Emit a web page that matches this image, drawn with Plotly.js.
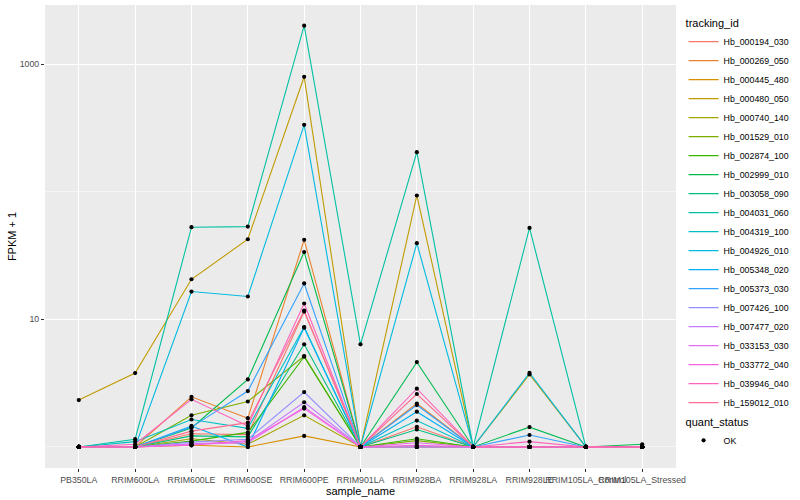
<!DOCTYPE html>
<html>
<head>
<meta charset="utf-8">
<script src="https://cdn.plot.ly/plotly-3.0.1.min.js"></script>
<style>html,body{margin:0;padding:0;background:#fff}#chart{width:800px;height:500px}</style>
</head>
<body>
<div id="chart"></div>
<script>
var samples = ["PB350LA","RRIM600LA","RRIM600LE","RRIM600SE","RRIM600PE","RRIM901LA","RRIM928BA","RRIM928LA","RRIM928LE","RRIM105LA_Control","RRIM105LA_Stressed"];
var trackingIds = ["Hb_000194_030","Hb_000269_050","Hb_000445_480","Hb_000480_050","Hb_000740_140","Hb_001529_010","Hb_002874_100","Hb_002999_010","Hb_003058_090","Hb_004031_060","Hb_004319_100","Hb_004926_010","Hb_005348_020","Hb_005373_030","Hb_007426_100","Hb_007477_020","Hb_033153_030","Hb_033772_040","Hb_039946_040","Hb_159012_010"];
var colors = ["#F8766D","#EA8331","#D89000","#C09B00","#A3A500","#7CAE00","#39B600","#00BB4E","#00BF7D","#00C1A3","#00BFC4","#00BAE0","#00B0F6","#35A2FF","#9590FF","#C77CFF","#E76BF3","#FA62DB","#FF62BC","#FF6C91"];

// FPKM + 1 per sample (order of samples)
var Hb_000194_030 = [1, 1, 1.27, 1.25, 11.5, 1, 1.44, 1, 1, 1, 1];
var Hb_000269_050 = [1, 1, 2.47, 1.68, 42, 1, 2.19, 1, 1, 1, 1];
var Hb_000445_480 = [1, 1, 1.03, 1.0, 1.22, 1, 1.0, 1, 1, 1, 1];
var Hb_000480_050 = [2.33, 3.79, 20.6, 42.4, 795, 1, 93.4, 1, 3.7, 1, 1];
var Hb_000740_140 = [1, 1, 1.16, 1.05, 1.77, 1, 1.0, 1, 1, 1, 1];
var Hb_001529_010 = [1, 1, 1.77, 2.27, 5.15, 1, 1.12, 1, 1, 1, 1];
var Hb_002874_100 = [1, 1, 1.11, 1.3, 5.1, 1, 1.16, 1, 1, 1, 1];
var Hb_002999_010 = [1, 1, 1.41, 3.38, 33.7, 1, 4.62, 1, 1.43, 1, 1.05];
var Hb_003058_090 = [1, 1, 1.22, 1.2, 6.37, 1, 1.37, 1, 1, 1, 1];
var Hb_004031_060 = [1, 1.15, 52.7, 53.3, 2000, 6.37, 204, 1, 52, 1, 1];
var Hb_004319_100 = [1, 1.1, 1.64, 1.4, 8.7, 1, 1.61, 1, 1, 1, 1];
var Hb_004926_010 = [1, 1, 16.5, 15.1, 334, 1, 39.5, 1, 3.8, 1, 1];
var Hb_005348_020 = [1, 1, 1.46, 1.0, 8.6, 1, 1.89, 1, 1, 1, 1];
var Hb_005373_030 = [1, 1, 1.43, 2.74, 19.1, 1, 2.13, 1, 1.24, 1, 1];
var Hb_007426_100 = [1, 1, 1.09, 1.15, 2.69, 1, 1.0, 1, 1, 1, 1];
var Hb_007477_020 = [1, 1, 1.06, 1.1, 2.24, 1, 1.0, 1, 1, 1, 1];
var Hb_033153_030 = [1, 1, 1.05, 1.08, 2.05, 1, 1.08, 1, 1, 1, 1];
var Hb_033772_040 = [1, 1, 1.03, 1.12, 2.0, 1, 1.03, 1, 1, 1, 1];
var Hb_039946_040 = [1, 1.05, 2.36, 1.46, 13.3, 1, 2.86, 1, 1.1, 1, 1];
var Hb_159012_010 = [1, 1, 1.33, 1.55, 11.7, 1, 2.6, 1, 1, 1, 1];

var seriesValues = [Hb_000194_030,Hb_000269_050,Hb_000445_480,Hb_000480_050,Hb_000740_140,Hb_001529_010,Hb_002874_100,Hb_002999_010,Hb_003058_090,Hb_004031_060,Hb_004319_100,Hb_004926_010,Hb_005348_020,Hb_005373_030,Hb_007426_100,Hb_007477_020,Hb_033153_030,Hb_033772_040,Hb_039946_040,Hb_159012_010];

var FONT = "Liberation Sans, Arial, sans-serif";
var traces = [];
var allX = [], allY = [];
for (var i = 0; i < trackingIds.length; i++) {
  traces.push({
    type: "scatter", mode: "lines", name: trackingIds[i],
    x: samples, y: seriesValues[i],
    line: {color: colors[i], width: 1.1},
    legend: "legend", hoverinfo: "skip"
  });
  allX = allX.concat(samples);
  allY = allY.concat(seriesValues[i]);
}
traces.push({
  type: "scatter", mode: "markers", name: "OK",
  x: allX, y: allY,
  marker: {color: "#000000", size: 4.2},
  legend: "legend2", hoverinfo: "skip"
});

var layout = {
  width: 800, height: 500,
  margin: {l: 45, r: 117, t: 5, b: 32},
  paper_bgcolor: "#FFFFFF",
  plot_bgcolor: "#EBEBEB",
  font: {family: FONT, color: "#000000"},
  showlegend: true,
  xaxis: {
    type: "category", categoryorder: "array", categoryarray: samples,
    range: [-0.6, 10.6],
    showgrid: true, gridcolor: "#FFFFFF", gridwidth: 1.1,
    zeroline: false, showline: false,
    ticks: "outside", ticklen: 3, tickwidth: 1, tickcolor: "#333333",
    tickangle: 0,
    tickfont: {family: FONT, size: 8.8, color: "#4D4D4D"},
    title: {text: "sample_name", font: {family: FONT, size: 11, color: "#000000"}, standoff: 3}
  },
  yaxis: {
    type: "log",
    range: [-0.165, 3.463],
    tickmode: "array", tickvals: [10, 1000], ticktext: ["10", "1000"],
    showgrid: true, gridcolor: "#FFFFFF", gridwidth: 1.1,
    minor: {tickmode: "array", tickvals: [1, 100], showgrid: true, gridcolor: "#FFFFFF", gridwidth: 0.5, ticks: ""},
    zeroline: false, showline: false,
    ticks: "outside", ticklen: 3, tickwidth: 1, tickcolor: "#333333",
    tickfont: {family: FONT, size: 8.8, color: "#4D4D4D"},
    title: {text: "FPKM + 1", font: {family: FONT, size: 11, color: "#000000"}, standoff: 0}
  },
  legend: {
    title: {text: "tracking_id", font: {family: FONT, size: 11, color: "#000000"}},
    x: 1.012, xanchor: "left", y: 0.983, yanchor: "top",
    bgcolor: "rgba(0,0,0,0)",
    font: {family: FONT, size: 8.8, color: "#000000"},
    itemwidth: 30, tracegroupgap: 0
  },
  legend2: {
    title: {text: "quant_status", font: {family: FONT, size: 11, color: "#000000"}},
    x: 1.012, xanchor: "left", y: 0.122, yanchor: "top",
    bgcolor: "rgba(0,0,0,0)",
    font: {family: FONT, size: 8.8, color: "#000000"},
    itemwidth: 30
  }
};

Plotly.newPlot("chart", traces, layout, {displayModeBar: false, staticPlot: true});
</script>
</body>
</html>
